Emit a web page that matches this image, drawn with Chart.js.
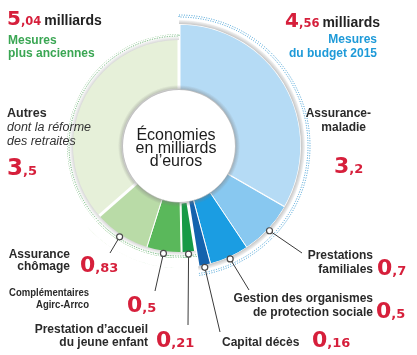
<!DOCTYPE html>
<html><head><meta charset="utf-8">
<script src="https://cdn.jsdelivr.net/npm/chart.js@4/dist/chart.umd.min.js"></script>
<style>
html,body{margin:0;padding:0;background:#fff;}
#wrap{position:relative;width:417px;height:355px;overflow:hidden;background:#fff;}
canvas,svg{position:absolute;left:0;top:0;}
</style></head><body>
<div id="wrap">
<canvas id="c1" width="417" height="355"></canvas>
<canvas id="c2" width="417" height="355"></canvas>
<svg id="txt" width="417" height="355" xmlns="http://www.w3.org/2000/svg"></svg>
</div>
<script>
// ---------- DATA ----------
const categories = [
  ['Assurance-', 'maladie'],
  ['Prestations', 'familiales'],
  ['Gestion des organismes', 'de protection sociale'],
  ['Capital décès'],
  ['Prestation d’accueil', 'du jeune enfant'],
  ['Complémentaires', 'Agirc-Arrco'],
  ['Assurance', 'chômage'],
  ['Autres']
];
const values = [3.2, 0.7, 0.5, 0.16, 0.21, 0.5, 0.83, 3.5];
const groupOf = [0, 0, 0, 0, 1, 1, 1, 1];          // 0 = budget 2015, 1 = plus anciennes
const groupTotals = [4.56, 5.04];
const groupTitles = [['Mesures', 'du budget 2015'], ['Mesures', 'plus anciennes']];
const autresNote = ['dont la réforme', 'des retraites'];
const centerTitle = ['Économies', 'en milliards', 'd’euros'];
const unitWord = 'milliards';

// ---------- STYLE / LAYOUT ----------
const colors = ['#b5dbf5', '#88c8f0', '#1b9de2', '#1462ad', '#179a46', '#5ab85b', '#b9dba7', '#e6f0d9'];
const segBorder = [1.5, 1, 1, 1, 3, 1, 1, 3];
const RED = '#d61f3b';
const T = 'rgba(0,0,0,0)';
const PAD = {left: 0, top: 0, right: 59, bottom: 63};
const LAB = '"Liberation Sans", Arial, sans-serif';
const NUMF = '"DejaVu Sans", sans-serif';
// label layout: text anchor x, baselines, optional fitted widths, number position
const labelLayout = [
  {xs: [371, 366], ys: [117, 131], anchor: 'end', num: [334, 173]},
  {xs: [373, 373], ys: [259, 273], anchor: 'end', num: [377, 275]},
  {xs: [373, 373], ys: [302, 316], anchor: 'end', num: [376, 318]},
  {xs: [222], ys: [346], anchor: 'start', num: [312, 347]},
  {xs: [148, 148], ys: [333, 346], anchor: 'end', num: [156, 347]},
  {xs: [89, 89], ys: [296, 308], anchor: 'end', num: [127, 312], size: 11.5, fit: [80, 53]},
  {xs: [70, 70], ys: [258, 270], anchor: 'end', num: [80, 272]},
  {xs: [7], ys: [117], anchor: 'start', num: [7, 175], size: 12.5}
];
const leaderEnds = [null, [302, 253], [249, 290], [220, 332], [188, 325], [155, 291], [110, 253], null];

// ---------- MAIN RING ----------
const chart1 = new Chart(document.getElementById('c1'), {
  type: 'doughnut',
  data: {
    labels: categories.map(l => l.join(' ')),
    datasets: [{data: values, backgroundColor: colors, borderColor: '#ffffff', borderWidth: segBorder}]
  },
  options: {
    responsive: false, animation: false, events: [],
    radius: 122, cutout: (56 / 122 * 100) + '%',
    layout: {padding: PAD},
    plugins: {legend: {display: false}, tooltip: {enabled: false}}
  }
});

// ---------- DECORATION RING (shadows, masks, dotted outlines, leaders) ----------
function shade(c0, c1, which) {
  return (sc) => {
    if (which >= 0 && sc.dataIndex !== which) return T;
    const ch = sc.chart, ca = ch.chartArea;
    const ctrl = ch.getDatasetMeta(sc.datasetIndex).controller;
    if (!ca || !isFinite(ctrl.innerRadius) || !isFinite(ctrl.outerRadius)) return T;
    const cx = (ca.left + ca.right) / 2, cy = (ca.top + ca.bottom) / 2;
    const g = ch.ctx.createRadialGradient(cx, cy, ctrl.innerRadius, cx, cy, ctrl.outerRadius);
    g.addColorStop(0, c0); g.addColorStop(1, c1);
    return g;
  };
}
const dotBlue = '#3d9bd2', dotGreen = '#5aab69';
const leaderPlugin = {
  id: 'leaders',
  afterDatasetsDraw(chart) {
    const m = chart1.getDatasetMeta(0);
    const ctx = chart.ctx;
    ctx.save();
    leaderEnds.forEach((e, i) => {
      if (!e) return;
      const a = m.data[i];
      const mid = (a.startAngle + a.endAngle) / 2;
      const r = groupOf[i] === 0 ? 124 : 108.5;
      const x = a.x + Math.cos(mid) * r, y = a.y + Math.sin(mid) * r;
      ctx.beginPath(); ctx.moveTo(x, y); ctx.lineTo(e[0], e[1]);
      ctx.strokeStyle = '#3a3a3a'; ctx.lineWidth = 1; ctx.stroke();
      ctx.beginPath(); ctx.arc(x, y, 3, 0, Math.PI * 2);
      ctx.fillStyle = '#fff'; ctx.fill();
      ctx.strokeStyle = '#4a4a4a'; ctx.lineWidth = 1.2; ctx.stroke();
    });
    ctx.restore();
  }
};
const chart2 = new Chart(document.getElementById('c2'), {
  type: 'doughnut',
  data: {
    labels: ['budget 2015', 'plus anciennes'],
    datasets: [
      {data: groupTotals, weight: 2, backgroundColor: T, borderColor: [dotBlue, T], borderWidth: 1, borderDash: [1, 1.5]},
      {data: groupTotals, weight: 3, backgroundColor: T, borderWidth: 0},
      {data: groupTotals, weight: 4, backgroundColor: shade('#c6c6c6', '#f6f6f6', 0), borderWidth: 0},
      {data: groupTotals, weight: 10, backgroundColor: [T, '#ffffff'], borderWidth: 0},
      {data: groupTotals, weight: 2, backgroundColor: [T, '#ffffff'], borderColor: [T, dotGreen], borderWidth: 1, borderDash: [1, 1.5]},
      {data: groupTotals, weight: 4, backgroundColor: shade('#d9d9d9', '#ffffff', 1), borderWidth: 0},
      {data: groupTotals, weight: 45, backgroundColor: T, borderWidth: 0},
      {data: [1], weight: 5, backgroundColor: shade('rgba(130,130,130,0.55)', 'rgba(130,130,130,0)', -1), borderWidth: 0}
    ]
  },
  options: {
    responsive: false, animation: false, events: [],
    radius: 131, cutout: (56 / 131 * 100) + '%',
    layout: {padding: PAD},
    plugins: {legend: {display: false}, tooltip: {enabled: false}}
  },
  plugins: [leaderPlugin]
});

// ---------- TEXT ----------
const svg = document.getElementById('txt');
const NS = 'http://www.w3.org/2000/svg';
function el(tag, attrs, text, parent) {
  const e = document.createElementNS(NS, tag);
  for (const k in attrs) e.setAttribute(k, attrs[k]);
  if (text != null) e.textContent = text;
  (parent || svg).appendChild(e);
  return e;
}
function fmt(v) { const s = String(v).replace('.', ','); const k = s.indexOf(','); return [s.slice(0, k), s.slice(k)]; }
function bigNumber(x, y, v, bigSize, smallSize, anchor) {
  const [a, b] = fmt(v);
  const t = el('text', {x, y, 'font-family': NUMF, fill: RED, 'text-anchor': anchor || 'start'});
  el('tspan', {'font-size': bigSize, 'font-weight': 'bold'}, a, t);
  el('tspan', {'font-size': smallSize, 'font-weight': 'bold'}, b, t);
  return t;
}
// category labels
labelLayout.forEach((L, i) => {
  categories[i].forEach((line, j) => {
    const at = {x: L.xs[j], y: L.ys[j], 'font-family': LAB, 'font-size': L.size || 12, 'font-weight': 'bold',
      fill: '#2a2a2a', 'text-anchor': L.anchor};
    if (L.fit) { at.textLength = L.fit[j]; at.lengthAdjust = 'spacingAndGlyphs'; }
    el('text', at, line);
  });
  bigNumber(L.num[0], L.num[1], values[i], i === 7 ? 23 : 22, 13);
});
autresNote.forEach((line, j) => {
  el('text', {x: 7, y: 131 + j * 14, 'font-family': LAB, 'font-size': 12.5, 'font-style': 'italic', fill: '#333'}, line);
});
// center title
centerTitle.forEach((line, j) => {
  el('text', {x: 176, y: 140 + j * 13, 'font-family': LAB, 'font-size': 16, fill: '#1c1c1c', 'text-anchor': 'middle'}, line);
});
// group totals
(function () {
  // left: plus anciennes
  const [a, b] = fmt(groupTotals[1]);
  const t = el('text', {x: 7, y: 25, 'font-family': NUMF, fill: RED});
  el('tspan', {'font-size': 20, 'font-weight': 'bold'}, a, t);
  el('tspan', {'font-size': 11.5, 'font-weight': 'bold'}, b, t);
  el('tspan', {'font-size': 14, 'font-weight': 'bold', fill: '#222', 'font-family': LAB, dx: 3}, unitWord, t);
  groupTitles[1].forEach((line, j) => el('text', {x: 8, y: 44 + j * 12.5, 'font-family': LAB, 'font-size': 12, 'font-weight': 'bold', fill: '#3aa653'}, line));
  // right: budget 2015
  const [c, d] = fmt(groupTotals[0]);
  const t2 = el('text', {x: 380, y: 27, 'font-family': NUMF, fill: RED, 'text-anchor': 'end'});
  el('tspan', {'font-size': 20, 'font-weight': 'bold'}, c, t2);
  el('tspan', {'font-size': 11.5, 'font-weight': 'bold'}, d, t2);
  el('tspan', {'font-size': 14, 'font-weight': 'bold', fill: '#222', 'font-family': LAB, dx: 3}, unitWord, t2);
  groupTitles[0].forEach((line, j) => el('text', {x: 377, y: 43 + j * 13.5, 'font-family': LAB, 'font-size': 12, 'font-weight': 'bold', fill: '#1e9ad8', 'text-anchor': 'end'}, line));
})();
</script>
</body></html>
